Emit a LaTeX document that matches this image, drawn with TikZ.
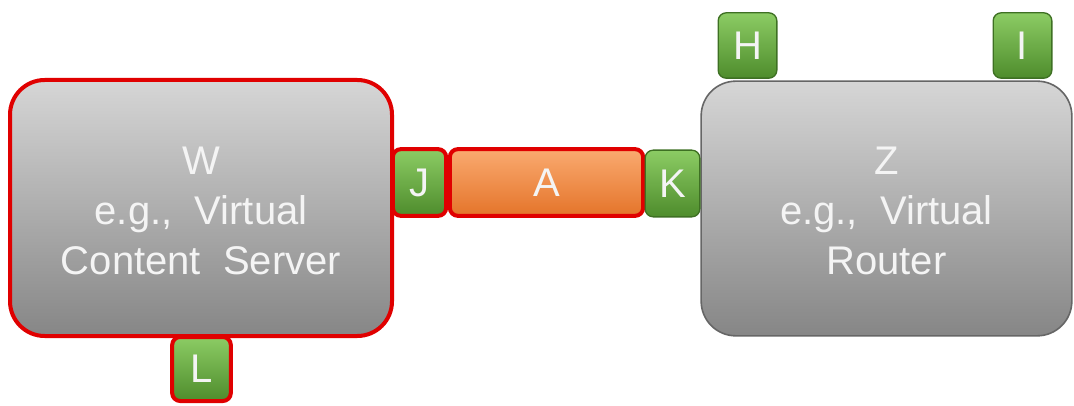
\documentclass[tikz,border=0pt]{standalone}
\usepackage{fontspec}
\setmainfont{Liberation Sans}
\definecolor{boxred}{RGB}{224,0,0}
\definecolor{vmtop}{RGB}{214,214,214}
\definecolor{vmbot}{RGB}{134,134,134}
\definecolor{porttop}{RGB}{140,204,100}
\definecolor{portbot}{RGB}{78,140,44}
\definecolor{linktop}{RGB}{250,170,112}
\definecolor{linkbot}{RGB}{228,116,42}
\definecolor{labelwhite}{RGB}{244,244,244}
\tikzset{every picture/.style={line width=0.75pt}}
\tikzset{
  vm/.style={rectangle, rounded corners=26pt, top color=vmtop, bottom color=vmbot, draw=gray!80!black, line width=1.2pt, text=labelwhite, align=center, font=\fontsize{30}{37.5}\selectfont, inner sep=0pt},
  port/.style={rectangle, rounded corners=6pt, top color=porttop, bottom color=portbot, draw=portbot!80!black, line width=1pt, text=labelwhite, font=\fontsize{30}{36}\selectfont, inner sep=0pt, minimum width=40pt, minimum height=50pt},
  link/.style={rectangle, rounded corners=6pt, top color=linktop, bottom color=linkbot, text=labelwhite, font=\fontsize{30}{36}\selectfont, inner sep=0pt, minimum height=50pt},
  redline/.style={draw=boxred, line width=3pt}
}
\begin{document}
\begin{tikzpicture}[x=0.75pt,y=0.75pt,yscale=-1,xscale=1]
	\useasboundingbox (0,0) rectangle (1074,406);

	%Shape: Rounded Rect [id:vmW]
	\node [vm, redline, minimum width=286.5pt, minimum height=192pt] (W) at (201,208) {};
	% Text Node
	\node [text=labelwhite, align=center, font=\fontsize{30}{37.5}\selectfont, inner sep=0pt] (Wtext) at (201,211) {W\\e.g.,~ Virtual\\Content~ Server};
	%Shape: Rounded Rect [id:vmZ]
	\node [vm, minimum width=278pt, minimum height=191pt] (Z) at (886.5,208.5) {};
	% Text Node
	\node [text=labelwhite, align=center, font=\fontsize{30}{37.5}\selectfont, inner sep=0pt] (Ztext) at (886.5,211) {Z\\e.g.,~ Virtual\\Router};

	%Shape: Rounded Rect [id:linkA]
	\node [link, redline, minimum width=145pt] (A) at (546.5,182.5) {A};

	%Shape: Port [id:portJ]
	\node [port, redline] (J) at (419.5,182.5) {J};
	%Shape: Port [id:portK]
	\node [port, minimum width=41pt] (K) at (672.5,183.5) {K};
	%Shape: Port [id:portL]
	\node [port, redline, minimum width=44pt, minimum height=48pt] (L) at (201.5,369) {L};
	%Shape: Port [id:portH]
	\node [port, minimum width=44pt, minimum height=49pt] (H) at (747.5,45.5) {H};
	%Shape: Port [id:portI]
	\node [port, minimum width=44pt, minimum height=49pt] (I) at (1022.5,45.5) {I};

	\end{tikzpicture}
\end{document}
